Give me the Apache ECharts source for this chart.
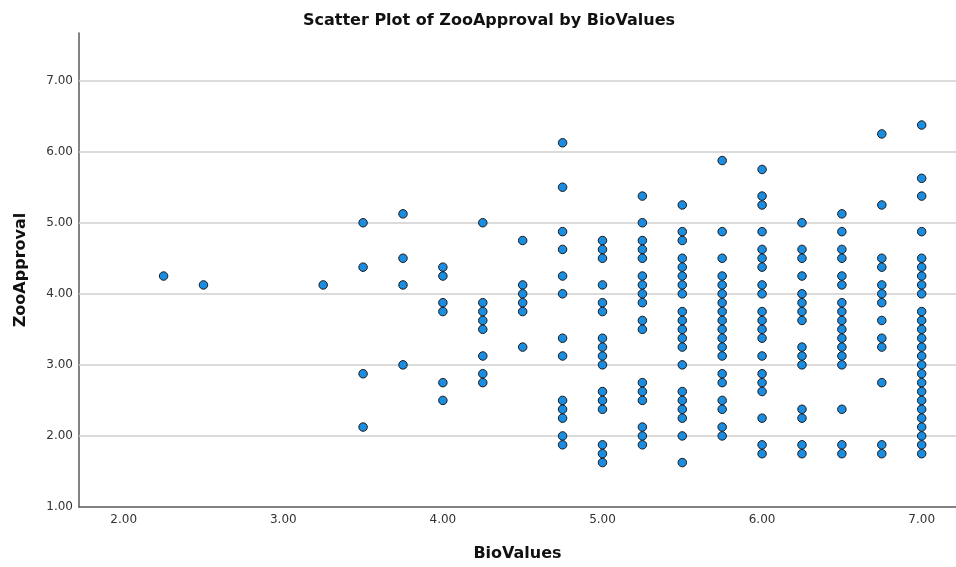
<!DOCTYPE html>
<html>
<head>
<meta charset="utf-8">
<script src="https://cdn.jsdelivr.net/npm/echarts@6/dist/echarts.min.js"></script>
<style>html,body{margin:0;padding:0;background:#fff}#c{width:956px;height:567px}</style>
</head>
<body>
<div id="c"></div>
<script>
// BioValues columns (x) and the ZooApproval values (y) observed at each
const bioValues = [2.25, 2.5, 3.25, 3.5, 3.75, 4.0, 4.25, 4.5, 4.75, 5.0, 5.25, 5.5, 5.75, 6.0, 6.25, 6.5, 6.75, 7.0];
const zoo_225 = [4.25];
const zoo_250 = [4.125];
const zoo_325 = [4.125];
const zoo_350 = [5.0, 4.375, 2.875, 2.125];
const zoo_375 = [5.125, 4.5, 4.125, 3.0];
const zoo_400 = [4.375, 4.25, 3.875, 3.75, 2.75, 2.5];
const zoo_425 = [5.0, 3.875, 3.75, 3.625, 3.5, 3.125, 2.875, 2.75];
const zoo_450 = [4.75, 4.125, 4.0, 3.875, 3.75, 3.25];
const zoo_475 = [6.125, 5.5, 4.875, 4.625, 4.25, 4.0, 3.375, 3.125, 2.5, 2.375, 2.25, 2.0, 1.875];
const zoo_500 = [4.75, 4.625, 4.5, 4.125, 3.875, 3.75, 3.375, 3.25, 3.125, 3.0, 2.625, 2.5, 2.375, 1.875, 1.75, 1.625];
const zoo_525 = [5.375, 5.0, 4.75, 4.625, 4.5, 4.25, 4.125, 4.0, 3.875, 3.625, 3.5, 2.75, 2.625, 2.5, 2.125, 2.0, 1.875];
const zoo_550 = [5.25, 4.875, 4.75, 4.5, 4.375, 4.25, 4.125, 4.0, 3.75, 3.625, 3.5, 3.375, 3.25, 3.0, 2.625, 2.5, 2.375, 2.25, 2.0, 1.625];
const zoo_575 = [5.875, 4.875, 4.5, 4.25, 4.125, 4.0, 3.875, 3.75, 3.625, 3.5, 3.375, 3.25, 3.125, 2.875, 2.75, 2.5, 2.375, 2.125, 2.0];
const zoo_600 = [5.75, 5.375, 5.25, 4.875, 4.625, 4.5, 4.375, 4.125, 4.0, 3.75, 3.625, 3.5, 3.375, 3.125, 2.875, 2.75, 2.625, 2.25, 1.875, 1.75];
const zoo_625 = [5.0, 4.625, 4.5, 4.25, 4.0, 3.875, 3.75, 3.625, 3.25, 3.125, 3.0, 2.375, 2.25, 1.875, 1.75];
const zoo_650 = [5.125, 4.875, 4.625, 4.5, 4.25, 4.125, 3.875, 3.75, 3.625, 3.5, 3.375, 3.25, 3.125, 3.0, 2.375, 1.875, 1.75];
const zoo_675 = [6.25, 5.25, 4.5, 4.375, 4.125, 4.0, 3.875, 3.625, 3.375, 3.25, 2.75, 1.875, 1.75];
const zoo_700 = [6.375, 5.625, 5.375, 4.875, 4.5, 4.375, 4.25, 4.125, 4.0, 3.75, 3.625, 3.5, 3.375, 3.25, 3.125, 3.0, 2.875, 2.75, 2.625, 2.5, 2.375, 2.25, 2.125, 2.0, 1.875, 1.75];

const xTicks = [2, 3, 4, 5, 6, 7];
const yTicks = [1, 2, 3, 4, 5, 6, 7];

const columns = [zoo_225, zoo_250, zoo_325, zoo_350, zoo_375, zoo_400, zoo_425, zoo_450, zoo_475, zoo_500,
  zoo_525, zoo_550, zoo_575, zoo_600, zoo_625, zoo_650, zoo_675, zoo_700];
const points = [];
columns.forEach((col, i) => col.forEach(v => points.push([bioValues[i], v])));

const chart = echarts.init(document.getElementById('c'), null, {renderer: 'canvas'});
const labelStyle = {color: '#333', fontFamily: 'DejaVu Sans', fontSize: 12};
chart.setOption({
  animation: false,
  backgroundColor: '#ffffff',
  title: {
    text: 'Scatter Plot of ZooApproval by BioValues',
    left: 484, top: 8, textAlign: 'center',
    textStyle: {fontFamily: 'DejaVu Sans', fontWeight: 'bold', fontSize: 16, color: '#111'}
  },
  grid: {left: 79, right: 0, top: 33, bottom: 59, containLabel: false},
  xAxis: {
    type: 'value', min: 1.72, max: 7.215,
    name: 'BioValues', nameLocation: 'middle', nameGap: 39,
    nameTextStyle: {fontFamily: 'DejaVu Sans', fontWeight: 'bold', fontSize: 16, color: '#111'},
    axisLine: {show: true, lineStyle: {color: '#5a5a5a', width: 1.5}},
    axisTick: {show: false},
    splitLine: {show: false},
    axisLabel: Object.assign({customValues: xTicks, margin: 7, formatter: v => v.toFixed(2)}, labelStyle)
  },
  yAxis: {
    type: 'value', min: 1, max: 7.67,
    name: 'ZooApproval', nameLocation: 'middle', nameGap: 50, nameRotate: 90,
    nameTextStyle: {fontFamily: 'DejaVu Sans', fontWeight: 'bold', fontSize: 16, color: '#111'},
    axisLine: {show: true, lineStyle: {color: '#5a5a5a', width: 1.5}},
    axisTick: {show: false},
    splitLine: {show: false},
    axisLabel: Object.assign({customValues: yTicks, margin: 6, formatter: v => v.toFixed(2)}, labelStyle)
  },
  series: [{
    type: 'scatter',
    data: points,
    symbol: 'circle',
    symbolSize: 8.5,
    z: 3,
    itemStyle: {color: '#1b8de0', borderColor: '#1a1a1a', borderWidth: 1, opacity: 1},
    markLine: {
      silent: true, symbol: 'none', z: 1, animation: false,
      label: {show: false},
      lineStyle: {color: '#cfcfcf', width: 1.5, type: 'solid'},
      data: yTicks.filter(v => v > 1).map(v => ({yAxis: v}))
    }
  }]
});
</script>
</body>
</html>
